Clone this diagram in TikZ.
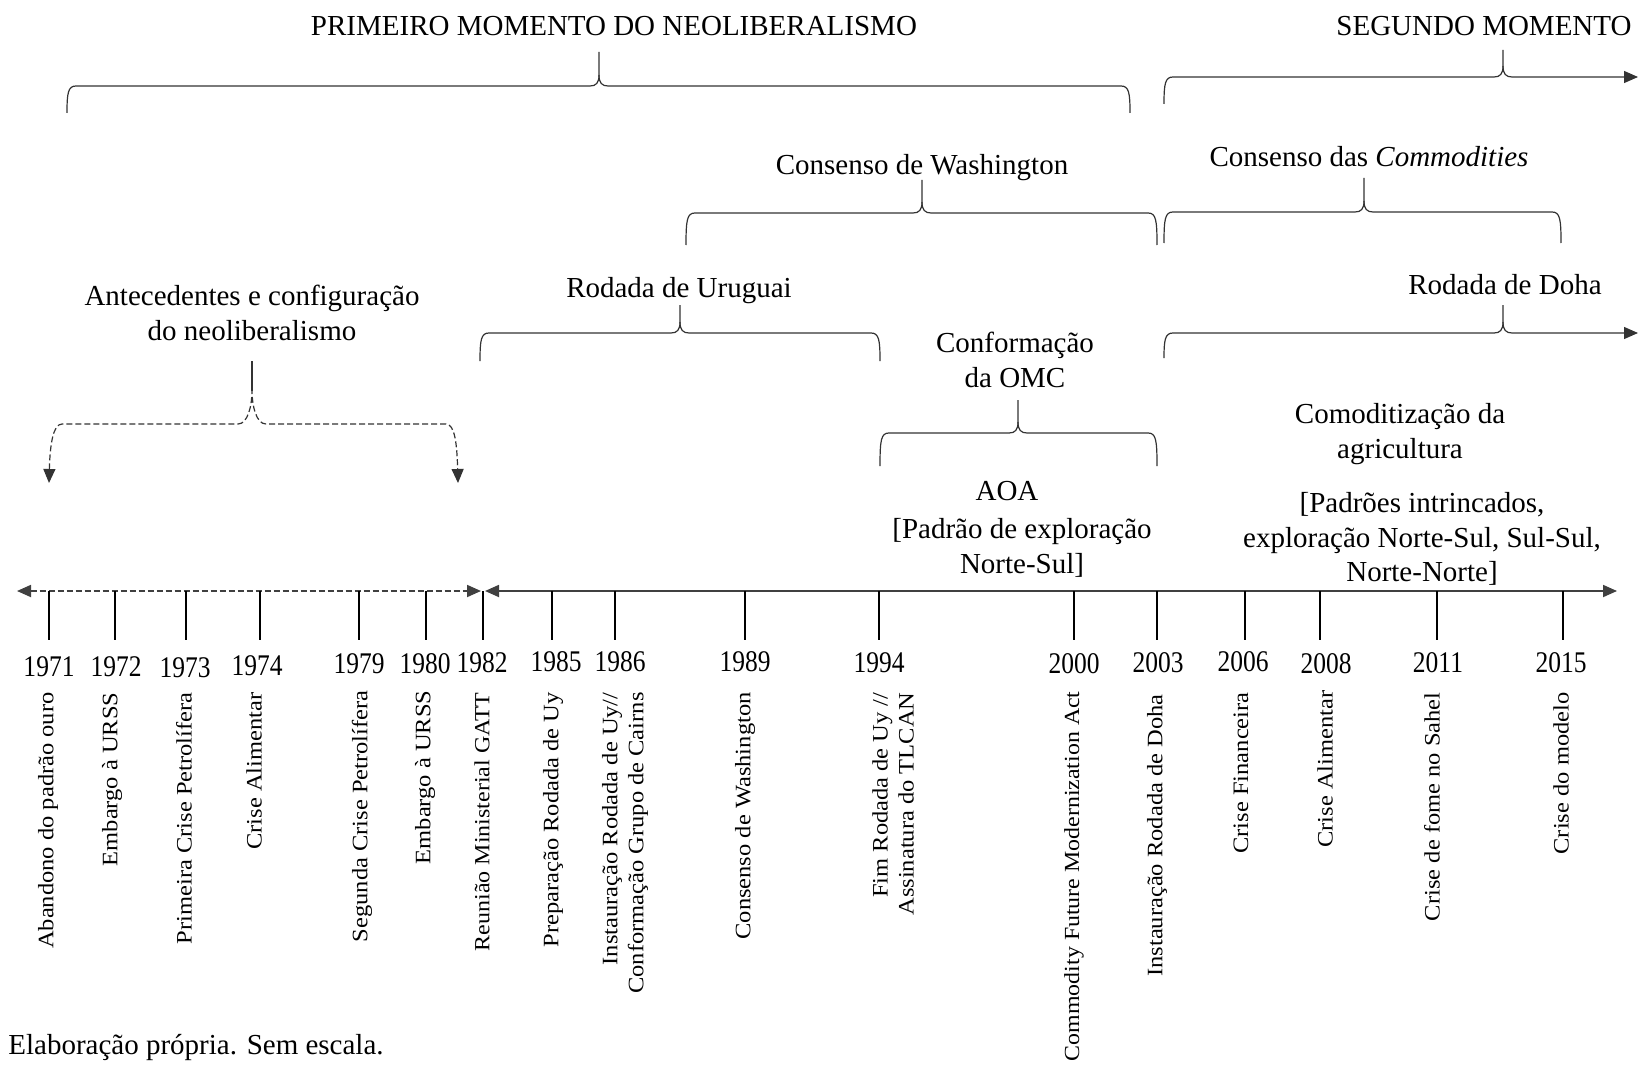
\documentclass[tikz,border=0pt]{standalone}
\usepackage{fontspec}
\setmainfont{Liberation Serif}
\usetikzlibrary{arrows.meta}

% curly bracket: xL, xR, y of ends, y of bar, x of cusp, y of cusp tip
\newcommand\drawbrace[6]{%
  \draw[brace] (#1,#3) .. controls (#1,#4+7) and (#1+1,#4) .. (#1+9,#4)
    -- (#5-9,#4) .. controls (#5-3,#4) and (#5,#4-3) .. (#5,#4-11) -- (#5,#6);
  \draw[brace] (#5,#4-11) .. controls (#5,#4-3) and (#5+3,#4) .. (#5+9,#4)
    -- (#2-9,#4) .. controls (#2-1,#4) and (#2,#4+7) .. (#2,#3);}
% open bracket ending in an arrow: xL, y of end, y of bar, x of cusp, y of tip, x of arrow
\newcommand\drawopenbrace[6]{%
  \draw[brace] (#1,#2) .. controls (#1,#3+7) and (#1+1,#3) .. (#1+9,#3)
    -- (#4-9,#3) .. controls (#4-3,#3) and (#4,#3-3) .. (#4,#3-11) -- (#4,#5);
  \draw[brace,-{Triangle[length=7pt,width=6pt]}] (#4,#3-11) .. controls (#4,#3-3) and (#4+3,#3) .. (#4+9,#3) -- (#6,#3);}

\begin{document}
\begin{tikzpicture}[x=0.5pt,y=-0.5pt,
  lab/.style={font=\fontsize{14.5}{17.25}\selectfont, inner sep=0pt, align=center},
  year/.style={font=\fontsize{15}{18}\selectfont, xscale=0.85, inner sep=0pt},
  vlab/.style={font=\fontsize{12.25}{14.5}\selectfont, xscale=0.9, rotate=90, anchor=east, inner sep=0pt, align=right},
  brace/.style={draw=black!80, line width=0.6pt},
  axis/.style={draw=black!75, line width=0.9pt},
  tickline/.style={draw=black, line width=0.7pt},
  tipboth/.style={{Triangle[length=7pt,width=6pt]}-{Triangle[length=7pt,width=6pt]}},
]
\useasboundingbox (0,0) rectangle (1641,1064);

% ---- periods (brackets and titles) ----
\node[lab] (primeiro) at (614,26) {PRIMEIRO MOMENTO DO NEOLIBERALISMO};
\drawbrace{67}{1130}{113}{86}{599}{52}
\node[lab] (segundo) at (1484,26) {SEGUNDO MOMENTO};
\drawopenbrace{1164}{104}{77}{1503}{50}{1638}

\node[lab] (washington) at (922,168) {Consenso de Washington};
\drawbrace{686}{1157}{245}{213}{922}{180}
\node[lab] (commodities) at (1369,157) {Consenso das \textit{Commodities}};
\drawbrace{1164}{1561}{243}{212}{1364}{178}

\node[lab] (uruguai) at (679,291) {Rodada de Uruguai};
\drawbrace{480}{880}{361}{333}{680}{305}
\node[lab] (doha) at (1505,285) {Rodada de Doha};
\drawopenbrace{1164}{358}{333}{1503}{305}{1638}

\node[lab] (omc) at (1015,360) {Conformação\\da OMC};
\drawbrace{880}{1157}{466}{433}{1018}{400}

\node[lab] (antecedentes) at (252,313) {Antecedentes e configuração\\do neoliberalismo};
\draw[brace] (252,361) -- (252,391);
\draw[brace, dash pattern=on 3pt off 1.5pt, tipboth]
  (49,483) .. controls (50,445) and (53,424) .. (62,424) -- (238,424)
  .. controls (248,424) and (252,405) .. (252,391)
  .. controls (252,405) and (256,424) .. (266,424) -- (446,424)
  .. controls (455,424) and (457,445) .. (458,483);

\node[lab] (aoa) at (1007,491) {AOA};
\node[lab] (padrao) at (1022,548) {[Padrão de exploração\\Norte-Sul]};
\node[lab] (comod) at (1400,434) {Comoditização da\\agricultura};
\node[lab] (intrincados) at (1422,539) {[Padrões intrincados,\\exploração Norte-Sul, Sul-Sul,\\Norte-Norte]};

% ---- time axis ----
\coordinate (axL) at (17,591);
\coordinate (axM) at (481,591);
\coordinate (axN) at (485,591);
\coordinate (axR) at (1617,591);
\draw[axis, dash pattern=on 3pt off 1.5pt, tipboth] (axL) -- (axM);
\draw[axis, tipboth] (axN) -- (axR);

\foreach \yr/\tx/\lx/\ly in {1971/49/49/667, 1972/115/116/667, 1973/186/185/668, 1974/260/257/666,
  1979/359/359/664, 1980/426/425/664, 1982/483/482/663, 1985/552/556/662, 1986/615/620/662,
  1989/745/745/662, 1994/879/879/663, 2000/1074/1074/664, 2003/1157/1158/663, 2006/1245/1243/662,
  2008/1320/1326/664, 2011/1437/1438/663, 2015/1563/1561/663}{
  \coordinate (t\yr) at (\tx,591);
  \draw[tickline] (t\yr) -- ++(0,49);
  \node[year] (y\yr) at (\lx,\ly) {\yr};
}

% ---- events ----
\node[vlab] (e1971) at (48,692) {Abandono do padrão ouro};
\node[vlab] (e1972) at (112,692) {Embargo à URSS};
\node[vlab] (e1973) at (184,692) {Primeira Crise Petrolífera};
\node[vlab] (e1974) at (254,692) {Crise Alimentar};
\node[vlab] (e1979) at (362,690) {Segunda Crise Petrolífera};
\node[vlab] (e1980) at (425,690) {Embargo à URSS};
\node[vlab, font=\fontsize{12}{14.5}\selectfont] (e1982) at (482,692) {Reunião Ministerial GATT};
\node[vlab] (e1985) at (553,692) {Preparação Rodada de Uy};
\node[vlab] (e1986) at (625,692) {Instauração Rodada de Uy//\\Conformação Grupo de Cairns};
\node[vlab] (e1989) at (745,692) {Consenso de Washington};
\node[vlab] (e1994) at (893,692) {Fim Rodada de Uy //\\Assinatura do TLCAN};
\node[vlab, font=\fontsize{11.95}{14}\selectfont] (e2000) at (1074,691) {Commodity Future Modernization Act};
\node[vlab] (e2003) at (1157,694) {Instauração Rodada de Doha};
\node[vlab] (e2006) at (1241,692) {Crise Financeira};
\node[vlab] (e2008) at (1325,690) {Crise Alimentar};
\node[vlab] (e2011) at (1432,692) {Crise de fome no Sahel};
\node[vlab] (e2015) at (1561,692) {Crise do modelo};

\node[lab, anchor=west] (fonte) at (8,1047) {Elaboração própria. Sem escala.};
\end{tikzpicture}
\end{document}
